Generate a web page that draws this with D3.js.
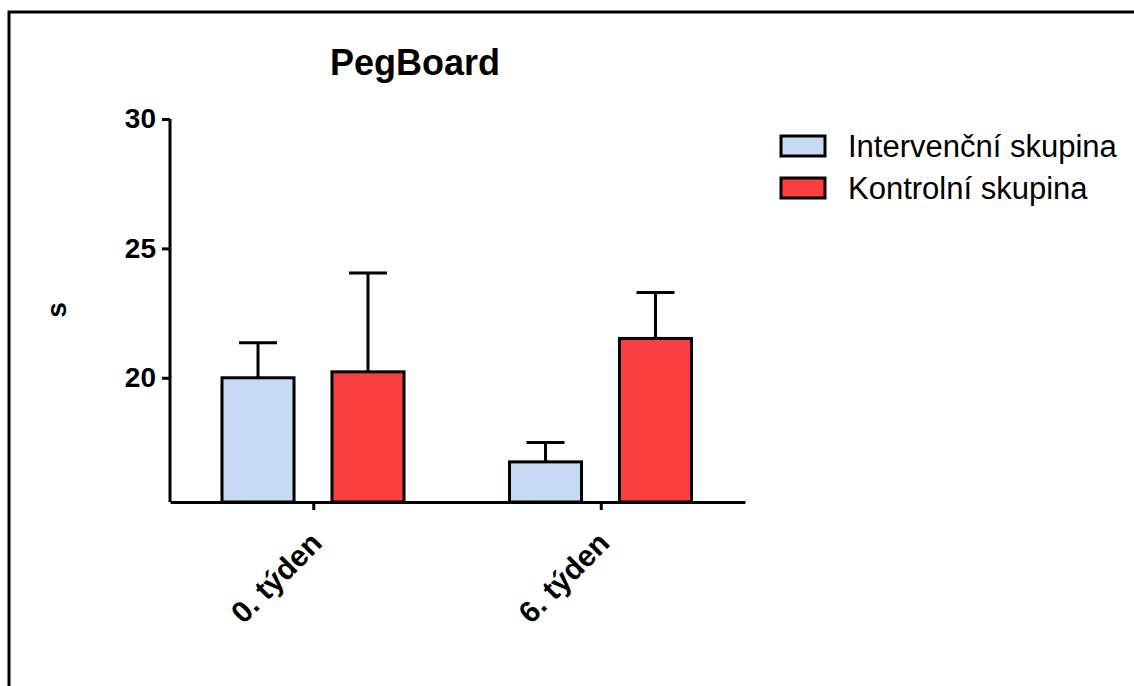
<!DOCTYPE html>
<html>
<head>
<meta charset="utf-8">
<script src="https://cdn.jsdelivr.net/npm/d3@7"></script>
<style>
  body { margin: 0; background: #fff; }
  svg { display: block; font-family: "Liberation Sans", Arial, sans-serif; }
</style>
</head>
<body>
<svg width="1134" height="686"></svg>
<script>
const categories = ['0. týden', '6. týden'];
const seriesNames = ['Intervenční skupina', 'Kontrolní skupina'];
const seriesColors = ['#c6daf4', '#f93f3f'];
// mean values per category, one array per series
const interventionMean = [20.0, 16.75];
const interventionErr = [1.35, 0.75];
const controlMean = [20.23, 21.52];
const controlErr = [3.82, 1.78];
const yTicks = [20, 25, 30];

const means = [interventionMean, controlMean];
const errs = [interventionErr, controlErr];

const svg = d3.select('svg');

// outer frame (right and bottom edges fall outside the picture)
svg.append('rect')
    .attr('x', 9).attr('y', 12)
    .attr('width', 1200).attr('height', 800)
    .attr('fill', 'none')
    .attr('stroke', '#000')
    .attr('stroke-width', 3);

const x0 = d3.scaleBand().domain(categories).range([170, 745]);
const x1 = d3.scaleBand().domain(seriesNames).range([52, 234]).paddingInner(0.345);
const y = d3.scaleLinear().domain([15.2, 30]).range([502, 119]);

svg.append('text')
    .attr('x', 415).attr('y', 75)
    .attr('text-anchor', 'middle')
    .attr('font-weight', 'bold')
    .attr('font-size', 36)
    .text('PegBoard');

// bars
const rows = [];
seriesNames.forEach((s, si) => {
    categories.forEach((c, ci) => {
        rows.push({ series: s, si, cat: c, value: means[si][ci], err: errs[si][ci] });
    });
});

const barG = svg.append('g');
barG.selectAll('rect.bar')
    .data(rows)
    .enter().append('rect')
    .attr('class', 'bar')
    .attr('x', d => x0(d.cat) + x1(d.series))
    .attr('y', d => y(d.value))
    .attr('width', x1.bandwidth())
    .attr('height', d => y(15.2) - y(d.value))
    .attr('fill', d => seriesColors[d.si])
    .attr('stroke', '#000')
    .attr('stroke-width', 3);

// error bars (upper only)
const capW = 38;
barG.selectAll('path.err')
    .data(rows)
    .enter().append('path')
    .attr('class', 'err')
    .attr('d', d => {
        const cx = x0(d.cat) + x1(d.series) + x1.bandwidth() / 2;
        const top = y(d.value + d.err);
        return `M${cx},${y(d.value)}V${top}M${cx - capW / 2},${top}H${cx + capW / 2}`;
    })
    .attr('fill', 'none')
    .attr('stroke', '#000')
    .attr('stroke-width', 3);

// y axis
const yAxis = svg.append('g')
    .attr('transform', 'translate(170,0)')
    .call(d3.axisLeft(y).tickValues(yTicks).tickSize(8).tickSizeOuter(0).tickPadding(6));
yAxis.select('.domain').attr('d', `M0,${y(30)}V${y(15.2)}`).attr('stroke-width', 3);
yAxis.selectAll('.tick line').attr('stroke-width', 3);
yAxis.selectAll('.tick text')
    .attr('font-size', 28)
    .attr('font-weight', 'bold')
    .attr('font-family', '"Liberation Sans", Arial, sans-serif')
    .attr('fill', '#000');

// x axis
const xAxis = svg.append('g')
    .attr('transform', `translate(0,${y(15.2)})`)
    .call(d3.axisBottom(x0).tickSize(8).tickSizeOuter(0).tickPadding(6));
xAxis.select('.domain').attr('stroke-width', 3);
xAxis.selectAll('.tick line').attr('stroke-width', 3);
xAxis.selectAll('.tick text')
    .attr('font-size', 30)
    .attr('font-weight', 'bold')
    .attr('font-family', '"Liberation Sans", Arial, sans-serif')
    .attr('fill', '#000')
    .attr('text-anchor', 'end')
    .attr('dy', null)
    .attr('transform', 'translate(0,33) rotate(-45)');

// y label
svg.append('text')
    .attr('transform', 'translate(66,310) rotate(-90)')
    .attr('text-anchor', 'middle')
    .attr('font-weight', 'bold')
    .attr('font-size', 28)
    .text('s');

// legend
const legend = svg.append('g').attr('transform', 'translate(781,136)');
const item = legend.selectAll('g')
    .data(seriesNames)
    .enter().append('g')
    .attr('transform', (d, i) => `translate(0,${i * 42})`);
item.append('rect')
    .attr('x', 0).attr('y', 0)
    .attr('width', 44).attr('height', 20)
    .attr('fill', (d, i) => seriesColors[i])
    .attr('stroke', '#000')
    .attr('stroke-width', 3);
item.append('text')
    .attr('x', 67).attr('y', 21)
    .attr('font-size', 31)
    .text(d => d);
</script>
</body>
</html>
